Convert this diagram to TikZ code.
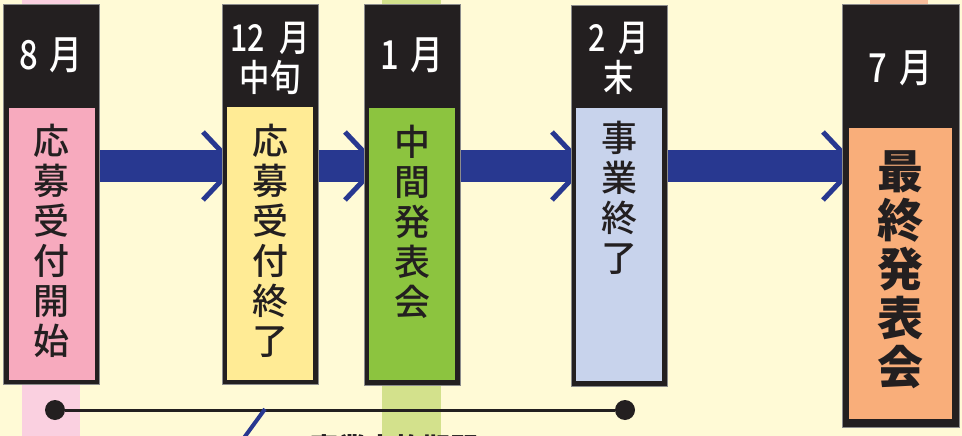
\documentclass[tikz,border=0pt]{standalone}
\usepackage{fontspec}
\setmainfont{Noto Sans CJK JP}
\newfontfamily\headfont{Noto Sans CJK JP Medium}[FakeStretch=0.82]
\newfontfamily\bodyfont{Noto Sans CJK JP Medium}

\definecolor{cream}{HTML}{FFFAD6}
\definecolor{inkblack}{HTML}{231F20}
\definecolor{navy}{HTML}{283890}
\definecolor{pinkfill}{HTML}{F7AABE}
\definecolor{yellowfill}{HTML}{FFEB95}
\definecolor{greenfill}{HTML}{8CC43F}
\definecolor{bluefill}{HTML}{C8D3EC}
\definecolor{orangefill}{HTML}{F9AE7A}
\definecolor{pinkband}{HTML}{FAD0E0}
\definecolor{greenband}{HTML}{D3E18C}
\definecolor{orangeband}{HTML}{F8BE9C}

\tikzset{
  frame/.style={fill=inkblack, draw=black!45, line width=0.6pt, inner sep=0pt, minimum width=96pt},
  panel/.style={inner sep=0pt, minimum width=86pt},
  head/.style={text=white, font=\headfont\fontsize{40}{40}\selectfont, align=center, inner sep=0pt},
  head2/.style={text=white, font=\headfont\fontsize{37}{40}\selectfont, align=center, inner sep=0pt},
  body/.style={text=inkblack, font=\bodyfont\fontsize{36}{40}\selectfont, align=center, inner sep=0pt},
  band/.style={draw=navy, line width=32pt},
  chev/.style={draw=navy, line width=5pt},
  tick/.style={fill=inkblack, circle, inner sep=0pt, minimum size=20pt},
}

\begin{document}
\begin{tikzpicture}[x=1pt, y=-1pt]

    % Background
    \useasboundingbox (0,0) rectangle (962,436);
    \clip (0,0) rectangle (962,436);
    \fill[cream] (0,0) rectangle (962,436);

    % Light bands
    \fill[pinkband] (22,0) rectangle (80,436);
    \fill[greenband] (382,0) rectangle (441,436);
    \fill[orangeband] (870,0) rectangle (928,200);

    % Arrow band
    \coordinate (bandL) at (99,166);
    \coordinate (bandR) at (842,166);
    \draw[band] (bandL) -- (bandR);

    % Chevrons
    \draw[chev] (203,132) -- (235,166) -- (203,200);
    \draw[chev] (345,132) -- (377,166) -- (345,200);
    \draw[chev] (552,132) -- (584,166) -- (552,200);
    \draw[chev] (823,132) -- (855,166) -- (823,200);

    % Frames
    \node[frame, minimum height=380pt] (F1) at (51,194) {};
    \node[frame, minimum height=380pt] (F2) at (270,194) {};
    \node[frame, minimum height=381pt] (F3) at (412,194.5) {};
    \node[frame, minimum height=381pt] (F4) at (619,195.5) {};
    \node[frame, minimum width=117pt, minimum height=423pt] (F5) at (900.5,215.5) {};

    % Panels
    \node[panel, fill=pinkfill, minimum height=272pt] (P1) at (51.5,244) {};
    \node[panel, fill=yellowfill, minimum height=273pt] (P2) at (270,243.5) {};
    \node[panel, fill=greenfill, minimum height=272pt] (P3) at (412,244) {};
    \node[panel, fill=bluefill, minimum height=273pt] (P4) at (619,244.5) {};
    \node[panel, fill=orangefill, minimum width=103pt, minimum height=291pt] (P5) at (900.5,273.5) {};

    % Months
    \node[head] (H1) at (51,55) {8\hspace{0.3em}月};
    \node[head2] (H2) at (270,58) {12\hspace{0.4em}月\\中旬};
    \node[head] (H3) at (412,55) {1\hspace{0.3em}月};
    \node[head2] (H4) at (619,58) {2\hspace{0.35em}月\\末};
    \node[head] (H5) at (900.5,68) {7\hspace{0.3em}月};

    % Steps
    \node[body] (T1) at (51,241) {応\\募\\受\\付\\開\\始};
    \node[body] (T2) at (270,241) {応\\募\\受\\付\\終\\了};
    \node[body] (T3) at (412,222) {中\\間\\発\\表\\会};
    \node[body] (T4) at (619,198) {事\\業\\終\\了};
    \node[body, font=\bfseries\fontsize{46}{49}\selectfont] (T5) at (900.5,270) {最\\終\\発\\表\\会};

    % Project period
    \node[tick] (D1) at (55,410) {};
    \node[tick] (D2) at (625,410) {};
    \draw[inkblack, line width=3pt] (D1) -- (D2);

    \coordinate (lead) at (265,409);
    \coordinate (leadEnd) at (238,446);
    \draw[navy, line width=4pt] (lead) -- (leadEnd);
    \node[text=inkblack, font=\bfseries\fontsize{28}{30}\selectfont, inner sep=0pt] (period) at (394,448) {事業実施期間};

\end{tikzpicture}
\end{document}
